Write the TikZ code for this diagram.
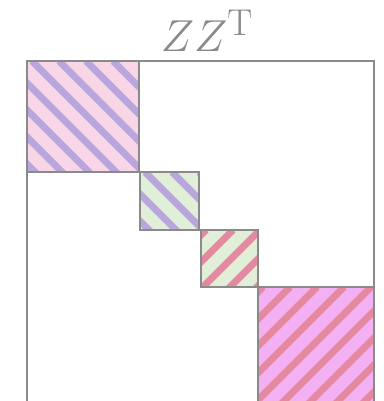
\documentclass[tikz,border=0pt]{standalone}

\definecolor{frame}{HTML}{8A8A8A}
\definecolor{pinkfill}{HTML}{F8D6E8}
\definecolor{greenfill}{HTML}{E2EFD8}
\definecolor{violetfill}{HTML}{F3B0F3}
\definecolor{purplestripe}{HTML}{B8A6DC}
\definecolor{redstripe}{HTML}{E4899F}

% #1,#2 top left, #3,#4 bottom right, #5 fill, #6 stripes, #7 slant (1 or -1)
\newcommand{\hatchblock}[7]{
  \begin{scope}
    \clip (#1,#2) rectangle (#3,#4);
    \fill[#5] (#1,#2) rectangle (#3,#4);
    \foreach \s in {-157,-130,...,300}
      \draw[#6,line width=7pt] (#1+\s,#2) -- ++({#7*150},150);
  \end{scope}
  \draw[frame,line width=2.4pt] (#1,#2) rectangle (#3,#4);
}

\begin{document}
\begin{tikzpicture}[x=1pt,y=-1pt]
    \useasboundingbox (0,0) rectangle (383,401);
    \clip (0,0) rectangle (383,401);
    \node[text=frame,inner sep=0pt,anchor=base,scale=1.8] (title) at (207,52)
      {\Huge $ZZ^{\mathrm{T}}$};
    \draw[frame,line width=2.4pt] (27,61) rectangle (374,410);
    \hatchblock{27}{61}{139}{172}{pinkfill}{purplestripe}{1}
    \hatchblock{140}{172}{199}{230}{greenfill}{purplestripe}{1}
    \hatchblock{201}{230}{258}{287}{greenfill}{redstripe}{-1}
    \hatchblock{258}{287}{374}{410}{violetfill}{redstripe}{-1}
  \end{tikzpicture}
\end{document}
